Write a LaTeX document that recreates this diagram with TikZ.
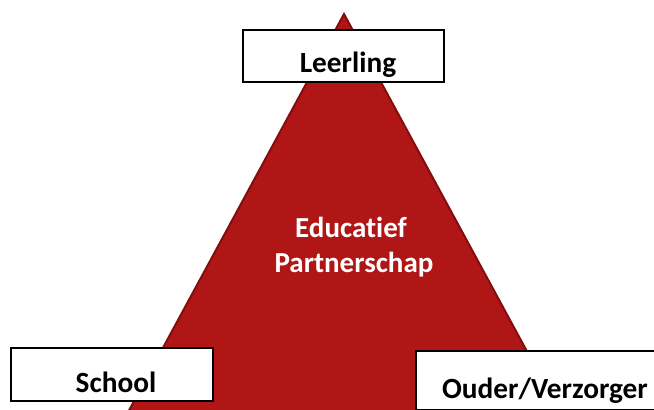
\documentclass[tikz,border=0pt]{standalone}
\usepackage{fontspec}
\setmainfont[Ligatures=NoCommon]{Carlito}
\definecolor{trifill}{RGB}{176,22,22}
\definecolor{triedge}{RGB}{130,14,14}
\begin{document}
\begin{tikzpicture}[x=1pt,y=-1pt,
  labelbox/.style={draw=black,line width=1.5pt,fill=white,inner sep=0pt,anchor=north west},
  boxtext/.style={font=\bfseries\fontsize{29.3}{36}\selectfont,text=black,anchor=base,inner sep=0pt},
  centertext/.style={font=\bfseries\fontsize{29}{35}\selectfont,text=white,anchor=base,inner sep=0pt}]
\useasboundingbox (0,0) rectangle (654,410);
\clip (0,0) rectangle (654,410);
\fill[white] (0,0) rectangle (654,410);
\coordinate (apex) at (344,14);
\coordinate (bl) at (75,510);
\coordinate (br) at (613,510);
\draw[fill=trifill,draw=triedge,line width=2pt,line join=miter] (apex) -- (br) -- (bl) -- cycle;
\node[labelbox,minimum width=201,minimum height=52] (leerlingbox) at (242,29) {};
\node[boxtext] (leerling) at (348,72) {Leerling};
\node[labelbox,minimum width=202,minimum height=53] (schoolbox) at (10,347) {};
\node[boxtext] (school) at (116,392) {School};
\node[labelbox,minimum width=260,minimum height=59] (ouderbox) at (415,350) {};
\node[boxtext] (ouder) at (545,398) {Ouder/Verzorger};
\node[centertext] (edu) at (351,237) {Educatief};
\node[centertext] (partner) at (354,272) {Partnerschap};
\end{tikzpicture}
\end{document}
